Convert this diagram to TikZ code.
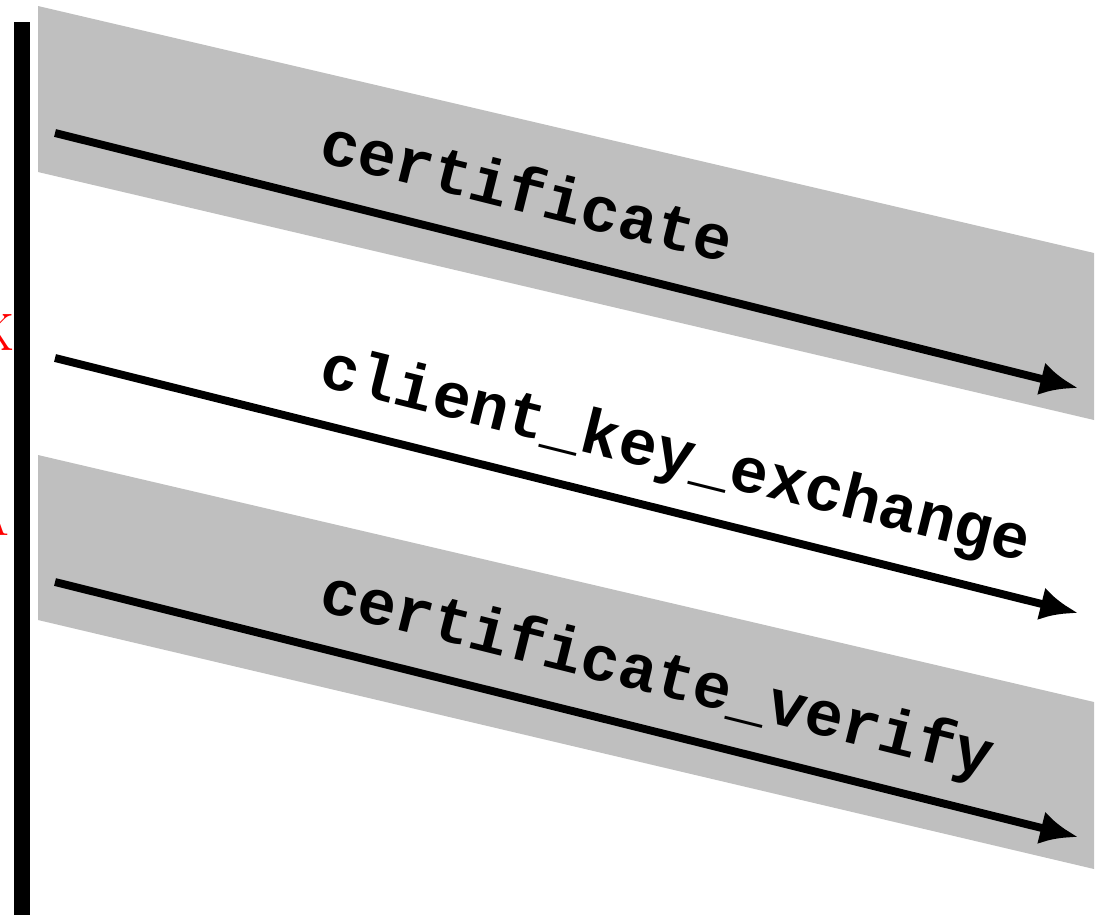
\documentclass[tikz,border=0pt]{standalone}
\usepackage{fontspec}
\setmonofont{Liberation Mono}
\usetikzlibrary{arrows.meta}

\begin{document}
\begin{tikzpicture}[x=0.02cm, y=-0.02cm,
	every node/.style={inner sep=0pt},
	msg/.style={line width=4.5pt, -{Latex[length=21.5pt, width=19pt]}},
	msglabel/.style={font=\fontsize{36.4}{40}\selectfont\ttfamily\bfseries, anchor=base west, rotate=-14},
	band/.style={fill=lightgray, draw=none},
	cut/.style={red, font=\fontsize{30}{34}\selectfont, anchor=base east}]
	\useasboundingbox (0,0) rectangle (1098,914);
	% shaded message bands
	\fill[band] (38,6) -- (1094,253) -- (1094,420) -- (38,172) -- cycle;
	\fill[band] (38,455) -- (1094,702) -- (1094,869) -- (38,620) -- cycle;
	% time line of the client
	\fill[black] (14,22) rectangle (30,920);
	% clipped red marks at the left edge
	\node[cut] (markk) at (15,350) {K};
	\node[cut] (marka) at (9,535) {A};
	% messages
	\coordinate (cert-s) at (55,133);
	\coordinate (cert-e) at (1078,388);
	\coordinate (cke-s) at (55,358);
	\coordinate (cke-e) at (1078,613);
	\coordinate (cv-s) at (55,582);
	\coordinate (cv-e) at (1078,837);
	\draw[msg] (cert-s) -- (cert-e);
	\draw[msg] (cke-s) -- (cke-e);
	\draw[msg] (cv-s) -- (cv-e);
	\node[msglabel] (cert) at (317,161) {certificate};
	\node[msglabel] (cke) at (317,385) {client\_key\_exchange};
	\node[msglabel] (cv) at (317,610) {certificate\_verify};
\end{tikzpicture}
\end{document}
